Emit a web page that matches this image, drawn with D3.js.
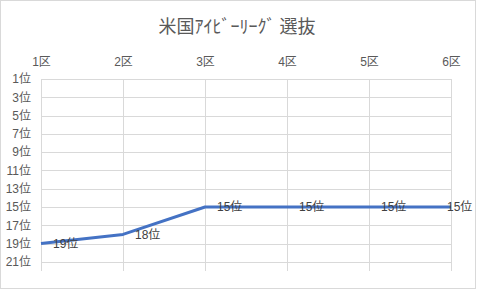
<!DOCTYPE html>
<html>
<head>
<meta charset="utf-8">
<script src="https://cdn.jsdelivr.net/npm/d3@7"></script>
<style>
  body { margin: 0; background: #fff; }
  svg { display: block; font-family: "Liberation Sans", "Noto Sans CJK JP", sans-serif; }
</style>
</head>
<body>
<svg width="478" height="290"></svg>
<script>
var title = "米国ｱｲﾋﾞｰﾘｰｸﾞ 選抜";
var categories = ["1区", "2区", "3区", "4区", "5区", "6区"];
var ranks = [19, 18, 15, 15, 15, 15];
var rankTicks = [1, 3, 5, 7, 9, 11, 13, 15, 17, 19, 21];

var svg = d3.select("svg"),
    plotLeft = 41, plotRight = 451, plotTop = 79, plotBottom = 271;

var x = d3.scalePoint().domain(categories).range([plotLeft, plotRight]),
    y = d3.scaleLinear().domain([1, 22]).range([plotTop, plotBottom]);

// chart border
svg.append("rect")
    .attr("x", 0.5).attr("y", 0.5)
    .attr("width", 475).attr("height", 288)
    .attr("fill", "#fff")
    .attr("stroke", "#d9d9d9");

svg.append("text")
    .attr("x", 237).attr("y", 33)
    .attr("text-anchor", "middle")
    .attr("fill", "#595959")
    .style("font-size", "18px")
    .style("font-family", "'Noto Sans CJK JP', sans-serif")
    .text(title);

// grid
var grid = svg.append("g").attr("stroke", "#d9d9d9").attr("stroke-width", 1);
grid.selectAll(".h").data(rankTicks).enter().append("line")
    .attr("x1", plotLeft).attr("x2", plotRight)
    .attr("y1", d => Math.round(y(d)) + 0.5).attr("y2", d => Math.round(y(d)) + 0.5);
grid.selectAll(".v").data(categories).enter().append("line")
    .attr("y1", plotTop).attr("y2", plotBottom)
    .attr("x1", d => Math.round(x(d)) + 0.5).attr("x2", d => Math.round(x(d)) + 0.5);

// axes
var xAxis = svg.append("g")
    .attr("transform", "translate(0," + plotTop + ")")
    .call(d3.axisTop(x).tickSize(0).tickPadding(13));
var yAxis = svg.append("g")
    .attr("transform", "translate(" + plotLeft + ",0)")
    .call(d3.axisLeft(y).tickValues(rankTicks).tickSize(0).tickPadding(10)
      .tickFormat(d => d + "位"));
[xAxis, yAxis].forEach(function(a) {
  a.select(".domain").remove();
  a.selectAll("text").attr("fill", "#595959").style("font-size", "12px")
    .style("font-family", null);
  a.attr("font-family", null);
});

// line
var line = d3.line()
    .x((d, i) => x(categories[i]))
    .y(d => y(d));

svg.append("path")
    .datum(ranks)
    .attr("fill", "none")
    .attr("stroke", "#4472c4")
    .attr("stroke-width", 3)
    .attr("stroke-linejoin", "round")
    .attr("d", line);

// data labels
svg.selectAll(".label").data(ranks).enter().append("text")
    .attr("class", "label")
    .attr("x", (d, i) => Math.min(x(categories[i]) + 12, 447))
    .attr("y", d => y(d))
    .attr("dy", "0.35em")
    .attr("fill", "#404040")
    .style("font-size", "12px")
    .text(d => d + "位");
</script>
</body>
</html>
